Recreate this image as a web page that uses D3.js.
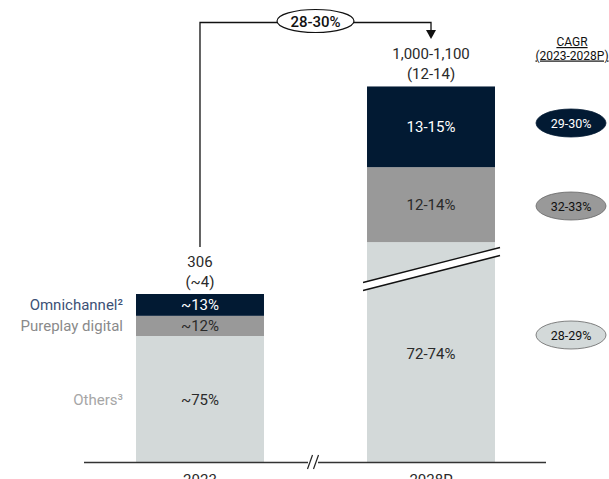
<!DOCTYPE html>
<html>
<head>
<meta charset="utf-8">
<script src="https://cdn.jsdelivr.net/npm/d3@7/dist/d3.min.js"></script>
<style>
  html, body { margin: 0; padding: 0; background: #fff; }
  svg { display: block; font-family: Roboto, "Noto Sans", sans-serif; }
</style>
</head>
<body>
<svg id="chart" width="609" height="479"></svg>
<script>
// Market size by channel (totals with share of each channel)
const years = ["2023", "2028P"];
const totals = [306, 1050];               // 2028P shown as range midpoint
const totalLabels = ["306", "1,000-1,100"];
const subLabels = ["(~4)", "(12-14)"];
const channels = ["Others³", "Pureplay digital", "Omnichannel²"];
const channelKeys = ["others", "pureplay", "omni"];
const shares2023 = [75, 12, 13];
const shares2028 = [73, 13, 14];
const shareLabels2023 = ["~75%", "~12%", "~13%"];
const shareLabels2028 = ["72-74%", "12-14%", "13-15%"];
const cagrLabels = ["28-29%", "32-33%", "29-30%"];
const totalCagr = "28-30%";
// Portion of the 2028P "others" segment cut out by the axis break
const breakGap = 366;

const colors = { others: "#d3d9d9", pureplay: "#999999", omni: "#021a33" };
const labelColors = { others: "#a6a6a6", pureplay: "#8a8a8a", omni: "#3c5176" };
const textOnBar = { others: "#2a2a2a", pureplay: "#2a2a2a", omni: "#fff" };

const svg = d3.select("#chart");

const x = d3.scaleBand().domain(years).range([136, 495]).paddingInner(0.446).paddingOuter(0);
const y = d3.scaleLinear().domain([0, 306]).range([462, 294]);

// Build stacked segments; values above the break are shifted down by the gap
const shareSets = [shares2023, shares2028];
const labelSets = [shareLabels2023, shareLabels2028];
const segs = [];
years.forEach((yr, i) => {
  let cum = 0;
  shareSets[i].forEach((s, j) => {
    const v = totals[i] * s / 100;
    let y0 = cum, y1 = cum + v;
    if (i === 1) {
      y0 = j === 0 ? 0 : cum - breakGap;
      y1 = cum + v - breakGap;
    }
    segs.push({ year: yr, key: channelKeys[j], y0, y1, label: labelSets[i][j], idx: i, j });
    cum += v;
  });
});

svg.append("g").selectAll("rect").data(segs).join("rect")
  .attr("x", d => x(d.year))
  .attr("width", x.bandwidth())
  .attr("y", d => y(d.y1))
  .attr("height", d => y(d.y0) - y(d.y1))
  .attr("fill", d => colors[d.key]);

// Segment value labels
svg.append("g").selectAll("text").data(segs).join("text")
  .attr("x", d => x(d.year) + x.bandwidth() / 2)
  .attr("y", d => {
    if (d.idx === 1 && d.j === 0) return 359;
    return (y(d.y0) + y(d.y1)) / 2 + 5.5;
  })
  .attr("text-anchor", "middle")
  .attr("font-size", 15)
  .attr("fill", d => textOnBar[d.key])
  .text(d => d.label);

// Break marks through the 2028P others segment
const bx0 = x("2028P") - 4, bx1 = x("2028P") + x.bandwidth() + 5;
const bk = { ya: 286.5, yb: 251.5 };
svg.append("path")
  .attr("d", `M${bx0},${bk.ya} L${bx1},${bk.yb}`)
  .attr("stroke", "#fff").attr("stroke-width", 7);
[-4, 4].forEach(o => {
  svg.append("line")
    .attr("x1", bx0).attr("y1", bk.ya + o)
    .attr("x2", bx1).attr("y2", bk.yb + o)
    .attr("stroke", "#111").attr("stroke-width", 1.3);
});

// Baseline with axis break
svg.append("line").attr("x1", 84).attr("x2", 546).attr("y1", 462.5).attr("y2", 462.5)
  .attr("stroke", "#333").attr("stroke-width", 1.3);
svg.append("rect").attr("x", 308).attr("y", 455).attr("width", 10).attr("height", 14).attr("fill", "#fff");
[310, 316].forEach(sx => {
  svg.append("line").attr("x1", sx - 2.5).attr("y1", 469).attr("x2", sx + 2.5).attr("y2", 455)
    .attr("stroke", "#222").attr("stroke-width", 1.2);
});

// Category labels
svg.append("g").selectAll("text").data(years).join("text")
  .attr("x", d => x(d) + x.bandwidth() / 2)
  .attr("y", 485)
  .attr("text-anchor", "middle")
  .attr("font-size", 15)
  .attr("fill", "#2a2a2a")
  .text(d => d);

// Totals above bars
years.forEach((yr, i) => {
  const top = i === 0 ? y(totals[0]) : y(totals[1] - breakGap);
  const cx = x(yr) + x.bandwidth() / 2;
  svg.append("text").attr("x", cx).attr("y", top - 27).attr("text-anchor", "middle")
    .attr("font-size", 15).attr("fill", "#2a2a2a").text(totalLabels[i]);
  svg.append("text").attr("x", cx).attr("y", top - 7).attr("text-anchor", "middle")
    .attr("font-size", 15).attr("fill", "#2a2a2a").text(subLabels[i]);
});

// Left legend labels aligned with 2023 segments
const seg2023 = segs.filter(d => d.idx === 0);
svg.append("g").selectAll("text").data(seg2023).join("text")
  .attr("x", 123)
  .attr("y", d => (y(d.y0) + y(d.y1)) / 2 + 5.5)
  .attr("text-anchor", "end")
  .attr("font-size", 15)
  .attr("fill", d => labelColors[d.key])
  .text(d => channels[d.j]);

// CAGR connector arrow
const x23 = x("2023") + x.bandwidth() / 2, x28 = x("2028P") + x.bandwidth() / 2;
svg.append("path")
  .attr("d", `M${x23},247 L${x23},22.5 L${x28},22.5 L${x28},31`)
  .attr("fill", "none").attr("stroke", "#111").attr("stroke-width", 1.3);
svg.append("path")
  .attr("d", `M${x28 - 5},30 L${x28 + 5},30 L${x28},39 Z`).attr("fill", "#111");
const ecx = (x23 + x28) / 2;
svg.append("ellipse").attr("cx", ecx).attr("cy", 21).attr("rx", 38.5).attr("ry", 11.5)
  .attr("fill", "#fff").attr("stroke", "#111").attr("stroke-width", 1.2);
svg.append("text").attr("x", ecx).attr("y", 26.5).attr("text-anchor", "middle")
  .attr("font-size", 15).attr("font-weight", 500).attr("fill", "#111").text(totalCagr);

// CAGR column
svg.append("text").attr("x", 572).attr("y", 46).attr("text-anchor", "middle")
  .attr("font-size", 12).attr("text-decoration", "underline")
  .attr("fill", "#111").text("CAGR");
svg.append("text").attr("x", 572).attr("y", 59.5).attr("text-anchor", "middle")
  .attr("font-size", 12).attr("text-decoration", "underline")
  .attr("fill", "#111").text("(2023-2028P)");

const cagrY = [335, 206, 123];
const cagrFill = [colors.others, colors.pureplay, colors.omni];
const cagrText = ["#111", "#111", "#fff"];
cagrLabels.forEach((lab, j) => {
  svg.append("ellipse").attr("cx", 571).attr("cy", cagrY[j]).attr("rx", 35).attr("ry", 14)
    .attr("fill", cagrFill[j]).attr("stroke", j === 2 ? colors.omni : "#666").attr("stroke-width", 0.8);
  svg.append("text").attr("x", 571).attr("y", cagrY[j] + 4.5).attr("text-anchor", "middle")
    .attr("font-size", 12.5).attr("fill", cagrText[j]).text(lab);
});
</script>
</body>
</html>
